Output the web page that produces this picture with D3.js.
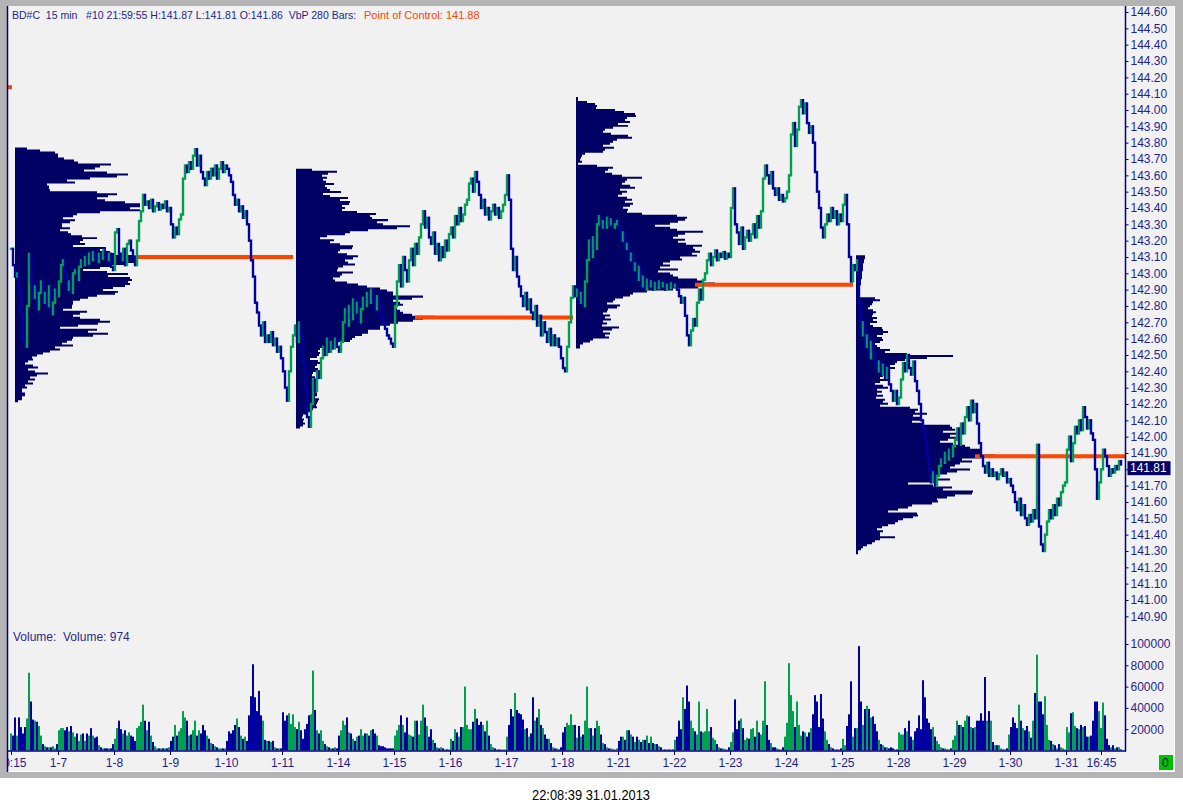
<!DOCTYPE html>
<html>
<head>
<meta charset="utf-8">
<script src="https://cdn.jsdelivr.net/npm/d3@7/dist/d3.min.js"></script>
<style>
  html, body { margin: 0; padding: 0; background: #fff; }
  svg text { font-family: "Liberation Sans", Arial, sans-serif; }
</style>
</head>
<body>
<svg id="chart" width="1183" height="812"></svg>
<script>
// 30-minute closes (one value per 2px slot), 1-4 afternoon .. 1-31
const priceClose = [
  143.15,143.05,142.98,143.00,142.90,142.75,142.60,142.55,142.80,143.12,142.95,142.85,142.92,142.78,142.88,142.95,142.82,142.88,142.80,142.92,142.75,142.82,142.90,142.86,
  142.95,143.05,143.08,142.98,142.90,142.95,142.88,143.00,143.02,142.96,143.04,143.08,143.05,143.10,143.06,143.12,143.08,143.13,143.10,143.07,143.12,143.09,143.14,143.10,143.08,143.12,143.04,143.02,
  143.25,143.27,143.12,143.08,143.15,143.05,143.18,143.20,143.14,143.10,143.05,143.20,143.32,143.38,143.48,143.42,143.44,143.40,143.45,143.38,143.41,143.43,143.39,143.42,143.40,143.44,143.38,143.40,
  143.30,143.22,143.28,143.24,143.33,143.36,143.58,143.66,143.62,143.68,143.64,143.72,143.76,143.66,143.72,143.62,143.58,143.54,143.62,143.58,143.64,143.60,143.66,143.58,143.64,143.68,143.62,143.66,
  143.64,143.60,143.56,143.48,143.42,143.45,143.38,143.41,143.34,143.38,143.30,143.20,143.08,142.98,142.82,142.76,142.68,142.62,142.70,142.58,142.62,142.58,142.64,142.56,142.60,142.52,142.55,142.48,
  142.40,142.30,142.22,142.40,142.55,142.62,142.68,142.58,142.70,142.62,142.45,142.30,142.12,142.06,142.20,142.35,142.28,142.40,142.36,142.48,142.55,142.50,142.60,142.52,142.58,142.54,142.60,142.55,
  142.52,142.58,142.70,142.78,142.68,142.80,142.72,142.84,142.76,142.82,142.70,142.78,142.85,142.80,142.88,142.82,142.90,142.84,142.78,142.86,142.80,142.74,142.70,142.66,142.62,142.60,142.57,142.55,
  142.80,142.95,143.05,142.92,143.10,143.02,142.95,143.08,143.15,143.05,143.18,143.12,143.22,143.30,143.38,143.28,143.34,143.22,143.18,143.25,143.12,143.18,143.08,143.16,143.10,143.20,143.14,143.24,
  143.28,143.22,143.35,143.30,143.40,143.32,143.36,143.42,143.45,143.55,143.58,143.50,143.62,143.56,143.48,143.40,143.45,143.36,143.40,143.33,143.38,143.42,143.36,143.40,143.34,143.38,143.42,143.48,
  143.60,143.45,143.15,143.02,143.10,142.98,142.92,142.86,142.80,142.88,142.78,142.84,142.76,142.72,142.80,142.68,142.74,142.62,142.70,142.64,142.58,142.66,142.56,142.62,142.56,142.60,142.55,142.48,
  142.42,142.40,142.55,142.70,142.85,142.92,142.86,142.90,142.82,142.88,142.80,142.95,143.08,143.20,143.10,143.22,143.15,143.30,143.35,143.28,143.32,143.28,143.34,143.30,143.33,143.28,143.30,143.32,
  143.28,143.20,143.25,143.15,143.18,143.08,143.12,143.02,143.06,142.96,143.04,142.92,142.98,142.90,142.96,142.92,142.95,142.90,142.94,142.91,142.95,142.92,142.94,142.90,142.93,142.91,142.94,142.92,
  142.93,142.90,142.86,142.82,142.85,142.74,142.62,142.56,142.65,142.72,142.68,142.82,142.90,142.84,142.96,143.00,143.08,143.12,143.05,143.10,143.14,143.08,143.12,143.10,143.13,143.09,143.12,143.10,
  143.40,143.52,143.30,143.25,143.18,143.28,143.15,143.22,143.26,143.20,143.24,143.30,143.22,143.35,143.28,143.38,143.58,143.66,143.60,143.55,143.62,143.52,143.48,143.52,143.45,143.48,143.44,143.46,
  143.50,143.60,143.85,143.92,143.78,143.88,144.02,144.06,143.98,144.04,143.92,143.86,143.90,143.80,143.62,143.50,143.40,143.28,143.22,143.30,143.36,143.32,143.40,143.34,143.38,143.30,143.36,143.32,
  143.42,143.48,143.30,143.10,142.95,143.05,143.02,143.08,142.80,142.62,142.70,142.55,142.62,142.48,142.58,142.52,142.45,142.40,142.46,142.38,142.44,142.36,142.42,142.32,142.28,142.22,142.28,142.20,
  142.24,142.35,142.45,142.40,142.50,142.42,142.38,142.46,142.34,142.28,142.20,142.10,142.05,141.98,141.88,141.80,141.72,141.78,141.70,141.76,141.82,141.86,141.84,141.90,141.86,141.92,141.88,141.94,
  141.98,142.05,141.95,142.08,142.02,142.12,142.18,142.10,142.22,142.15,142.20,142.08,141.96,141.88,141.82,141.78,141.84,141.76,141.80,141.76,141.78,141.74,141.77,141.80,141.76,141.78,141.72,141.74,
  141.70,141.66,141.60,141.55,141.62,141.52,141.58,141.50,141.46,141.52,141.48,141.55,141.50,141.95,141.45,141.34,141.30,141.40,141.48,141.55,141.50,141.58,141.52,141.62,141.58,141.66,141.70,141.72,
  141.92,142.00,141.85,141.96,142.06,142.02,142.10,142.04,142.18,142.12,142.05,142.10,142.02,141.98,141.80,141.62,141.72,141.80,141.92,141.88,141.82,141.76,141.80,141.78,141.82,141.80,141.85,141.83
];

// volume per slot, thousands
const volumeK = [
  16,14,31,14,31,22,16,22,30,73, 46,29,28,27,23,14,6,4,3,3, 3,4,2,6,19,21,21,19,22,18, 23,17,13,16,9,15,16,9,16,14,
  21,14,12,13,5,3,2,2,2,2, 2,6,11,21,28,20,16,19,14,17, 14,13,9,21,23,27,43,28,19,27, 14,8,4,2,2,2,2,2,2,3,
  9,13,24,14,18,21,37,31,28,14, 15,19,28,14,19,16,24,19,14,11, 7,6,4,3,2,2,2,2,9,18, 16,19,24,30,22,14,11,13,9,33,
  51,81,50,37,56,33,28,10,9,9, 8,9,3,2,2,2,36,28,33,35, 25,34,22,20,27,19,11,20,25,33, 34,75,38,19,16,19,9,6,4,3,
  2,2,3,2,14,19,28,24,31,17, 16,11,9,13,14,20,14,16,16,14, 19,20,16,14,5,4,4,3,2,2, 2,2,14,19,24,
  33,24,17,31,15,14,13,28,28,15, 28,43,31,23,13,20,10,7,3,2, 3,2,1,1,1,11,9,20,17,13, 22,22,60,24,20,20,27,39,30,24,
  27,24,18,28,14,6,3,2,1,1, 1,1,1,13,24,39,32,54,38,35, 34,29,20,21,13,16,50,28,31,39, 24,21,15,11,11,7,3,2,2,1,
  3,17,22,26,24,34,24,24,12,23, 13,15,28,60,21,21,14,21,28,23, 15,7,6,3,2,2,1,1,2,9, 13,13,10,19,19,15,13,8,13,10,
  8,10,10,14,7,13,7,6,6,4, 3,1,1,1,1,1,1,10,13,28, 20,50,39,61,46,28,21,18,15,46, 18,17,18,39,18,22,12,10,6,3,
  2,2,1,1,3,8,17,48,20,28, 30,21,10,12,11,20,21,13,28,17, 15,28,65,24,10,7,3,3,2,1, 1,3,13,26,82,
  52,37,22,46,24,14,18,17,13,17, 21,34,52,46,22,53,30,18,10,6, 3,2,1,1,1,2,11,5,23,34, 65,13,21,21,98,46,24,39,42,39,
  31,32,25,18,10,6,5,3,3,2, 3,2,1,1,17,15,15,21,18,28, 13,10,18,21,33,20,66,50,30,26, 20,22,13,9,6,3,2,2,1,1,
  2,10,14,28,24,24,22,28,33,32, 22,21,22,28,28,35,28,69,28,37, 28,8,5,5,5,2,1,1,2,15, 22,31,26,21,43,28,21,19,23,18,
  12,28,54,90,46,46,34,51,24,10, 9,6,5,2,6,3,2,1,22,17, 35,36,23,21,20,24,22,23,13,13, 14,28,46,46,37,21,45,33,11,5,
  3,5,2,3,3,1
];

const dayLabels = ["10:15","1-7","1-8","1-9","1-10","1-11","1-14","1-15","1-16","1-17","1-18",
                   "1-21","1-22","1-23","1-24","1-25","1-28","1-29","1-30","1-31","16:45"];
const daySlots = [0,23.5,51.5,79.5,107.5,135.5,163.5,191.5,219.5,247.5,275.5,
                  303.5,331.5,359.5,387.5,415.5,443.5,471.5,499.5,527.5,545];

const priceTicks = [140.9,141.0,141.1,141.2,141.3,141.4,141.5,141.6,141.7,141.8,141.9,142.0,142.1,142.2,142.3,
                    142.4,142.5,142.6,142.7,142.8,142.9,143.0,143.1,143.2,143.3,143.4,143.5,143.6,143.7,143.8,
                    143.9,144.0,144.1,144.2,144.3,144.4,144.5,144.6];
const volumeTicks = [20000,40000,60000,80000,100000];

// volume-by-price profiles, 280 bars each, levels listed top -> bottom
const profileStart = [2,142.5,282.5,422.5];
const profileTop = [143.77,143.64,144.08,143.11];
const profileBottom = [142.21,142.05,142.54,141.28];
const profile1 = [12,25,40,43,43,49,59,63,96,85,80,69,92,113,102,75,52,60,32,34,34,35,82,102,93,82,90,110,125,125,
  115,125,85,62,58,48,60,55,47,47,55,45,53,56,67,82,68,65,70,58,91,85,95,100,140,120,122,123,112,97,
  85,68,92,113,93,115,117,113,115,110,98,88,103,100,82,73,65,58,58,57,57,48,72,65,58,65,85,95,83,63,
  45,82,73,93,78,58,57,52,47,58,40,45,35,28,22,17,18,13,10,18,23,13,20,33,22,15,20,13,18,10,12,7,7,10,10,7,7,3];
const profile2 = [16,41,32,26,31,27,30,38,29,31,34,45,27,34,52,44,54,53,46,49,46,61,80,74,76,92,81,87,114,101,
  72,54,49,31,24,38,34,44,57,56,44,42,51,62,57,49,52,59,47,42,41,57,46,44,37,39,51,62,71,84,
  91,97,97,127,116,97,104,107,99,101,104,107,116,139,127,117,102,94,84,84,72,72,66,59,56,54,41,34,27,24,
  22,24,23,21,14,22,24,21,19,22,21,17,16,19,16,21,17,19,21,20,19,21,21,19,23,22,21,20,21,17,16,12,7,6,8,7,9,7,4];
const profile3 = [2,2,11,19,21,20,39,48,59,60,51,49,54,42,52,37,29,27,35,52,56,41,37,34,27,38,29,27,9,6,
  5,4,6,2,21,37,32,29,36,46,66,51,49,46,54,59,44,51,46,42,51,56,49,57,54,47,52,51,66,101,
  111,109,102,94,79,94,101,127,109,102,97,109,102,110,126,117,119,124,116,121,104,106,94,87,94,84,102,82,94,97,
  102,121,127,139,124,122,97,71,57,54,47,39,37,31,44,41,32,31,27,34,29,35,27,31,26,43,36,27,34,29,33,17,14,7,4,4];
const profile4 = [9,9,8,8,7,7,7,7,6,6,6,6,5,5,5,3,3,3,2,2,2,
  19,24,17,16,14,12,17,20,17,16,21,17,21,14,17,26,27,32,27,21,26,27,24,19,21,24,34,29,51,97,
  71,49,41,39,34,39,31,26,31,27,24,34,24,19,27,32,21,26,21,27,20,29,27,32,24,54,62,59,71,57,
  64,66,56,66,94,96,99,87,101,94,101,92,84,97,109,114,124,124,124,139,127,106,116,104,99,94,114,101,91,84,
  79,94,81,52,77,96,87,117,116,99,91,81,82,76,56,52,42,32,61,62,57,47,42,39,32,26,21,27,24,24,
  39,24,19,16,11,7,5,2,2];
const pocPrices = [143.10,142.73,142.93,141.88];
const prevPoc = 144.14;
const lastPrice = 141.81;

const NAVY = "#000080", TXT = "#1f1f8f", PROF = "#000064";
const UP = "#00a050", DOWN = "#0000a0", POC = "#ff4500";

const svg = d3.select("#chart");

// window frame
svg.append("rect").attr("x",0).attr("y",0).attr("width",1183).attr("height",778).attr("fill","#b4b4b4");
svg.append("rect").attr("x",7).attr("y",6).attr("width",1168).attr("height",766).attr("fill","#f1f1f1");
svg.append("line").attr("x1",7).attr("x2",1175).attr("y1",771.5).attr("y2",771.5).attr("stroke","#fff");
svg.append("line").attr("x1",1174.5).attr("x2",1174.5).attr("y1",6).attr("y2",772).attr("stroke","#fff");

const x = d3.scaleLinear().domain([0, priceClose.length - 1]).range([11, 1121]);
const yP = d3.scaleLinear().domain([140.9, 144.6]).range([616.3, 12]);
const yV = d3.scaleLinear().domain([0, 100000]).range([750.5, 644]);
const wP = d3.scaleLinear().domain([0, 140]).range([0, 140]);

svg.append("clipPath").attr("id","plotclip")
  .append("rect").attr("x",8).attr("y",7).attr("width",1117).attr("height",744);
const plot = svg.append("g").attr("clip-path","url(#plotclip)");

// profiles, each drawn as one stepped shape
const profiles = [profile1, profile2, profile3, profile4];
profiles.forEach((vals, k) => {
  const x0 = x(profileStart[k]);
  const y0 = yP(profileTop[k]), y1 = yP(profileBottom[k]);
  const h = (y1 - y0) / vals.length;
  const p = d3.path();
  p.moveTo(x0, y0);
  vals.forEach((v, i) => {
    p.lineTo(x0 + wP(v), y0 + i * h);
    p.lineTo(x0 + wP(v), y0 + (i + 1) * h);
  });
  p.lineTo(x0, y1);
  p.closePath();
  plot.append("path").attr("d", p.toString()).attr("fill", PROF);
});

// points of control
plot.append("line").attr("x1",8).attr("x2",12).attr("y1",yP(prevPoc)).attr("y2",yP(prevPoc))
  .attr("stroke",POC).attr("stroke-width",4);
pocPrices.forEach((p, k) => {
  const xs = x(profileStart[k]) + wP(119);
  const xe = k < pocPrices.length - 1 ? x(profileStart[k + 1]) - 3 : 1125;
  plot.append("line").attr("x1",xs).attr("x2",xe).attr("y1",yP(p)).attr("y2",yP(p))
    .attr("stroke",POC).attr("stroke-width",4);
});

// price bars
const segs = priceClose.map((c, i) => ({ i: i, c: c, p: i ? priceClose[i - 1] : c }));
plot.append("g").selectAll("line").data(segs).enter().append("line")
  .attr("x1", d => x(d.i)).attr("x2", d => x(d.i))
  .attr("y1", d => yP(d.p)).attr("y2", d => yP(d.c))
  .attr("stroke", d => d.c >= d.p ? UP : DOWN)
  .attr("stroke-width", 2.4).attr("stroke-linecap", "square");

// volume
plot.append("g").selectAll("rect").data(volumeK).enter().append("rect")
  .attr("x", (d, i) => x(i) - 1).attr("width", 2)
  .attr("y", d => yV(d * 1000)).attr("height", d => yV(0) - yV(d * 1000))
  .attr("fill", (d, i) => (i === 0 || priceClose[i] >= priceClose[i - 1]) ? UP : DOWN);

// axes
function styleAxis(g) {
  g.select(".domain").remove();
  g.selectAll("line").attr("stroke", NAVY);
  g.selectAll("text").attr("fill", TXT).style("font-size", "12px")
    .style("font-family", "'Liberation Sans', Arial, sans-serif");
}
svg.append("g").attr("transform","translate(1125.5,0)")
  .call(d3.axisRight(yP).tickValues(priceTicks).tickFormat(d3.format(".2f")).tickSize(3).tickPadding(2))
  .call(styleAxis);
svg.append("g").attr("transform","translate(1125.5,0)")
  .call(d3.axisRight(yV).tickValues(volumeTicks).tickFormat(d3.format("d")).tickSize(3).tickPadding(2))
  .call(styleAxis);
svg.append("g").attr("transform","translate(0,751)")
  .call(d3.axisBottom(x).tickValues(daySlots).tickFormat((d, i) => dayLabels[i]).tickSize(4).tickPadding(3))
  .call(styleAxis);
svg.append("line").attr("x1",1125.5).attr("x2",1125.5).attr("y1",6).attr("y2",751.5).attr("stroke",NAVY).attr("stroke-width",1.5);
svg.append("line").attr("x1",8).attr("x2",1126).attr("y1",751).attr("y2",751).attr("stroke",NAVY).attr("stroke-width",1.5);

// frame edges drawn over the spill of the first day label and top tick label
svg.append("rect").attr("x",0).attr("y",0).attr("width",7).attr("height",778).attr("fill","#b4b4b4");
svg.append("rect").attr("x",0).attr("y",0).attr("width",1183).attr("height",6).attr("fill","#b4b4b4");
svg.append("line").attr("x1",7.5).attr("x2",7.5).attr("y1",6).attr("y2",772).attr("stroke",NAVY).attr("stroke-width",1.5);

// last price marker
svg.append("rect").attr("x",1127.5).attr("y",yP(lastPrice) - 6.5).attr("width",43).attr("height",14).attr("fill","#000066");
svg.append("text").attr("x",1130).attr("y",yP(lastPrice) + 4.5).attr("fill","#fff")
  .style("font-size","12px").text(lastPrice.toFixed(2));

// zero box
svg.append("rect").attr("x",1159).attr("y",755).attr("width",14).attr("height",15).attr("fill","#00c000");
svg.append("text").attr("x",1162).attr("y",767).attr("fill","#10105a").style("font-size","12px").text("0");

// header texts
svg.append("text").attr("x",12).attr("y",19).attr("fill",TXT).style("font-size","10.5px").style("white-space","pre")
  .text("BD#C  15 min   #10 21:59:55 H:141.87 L:141.81 O:141.86  VbP 280 Bars:");
svg.append("text").attr("x",364).attr("y",19).attr("fill",POC).style("font-size","11px")
  .text("Point of Control: " + pocPrices[3].toFixed(2));
svg.append("text").attr("x",13).attr("y",641).attr("fill","#2a2a88").style("font-size","12px").style("white-space","pre")
  .text("Volume:  Volume: 974");

// timestamp
svg.append("text").attr("x",591).attr("y",800).attr("text-anchor","middle").attr("fill","#000")
  .attr("textLength",118).attr("lengthAdjust","spacingAndGlyphs").style("font-size","14px")
  .text("22:08:39 31.01.2013");
</script>
</body>
</html>
